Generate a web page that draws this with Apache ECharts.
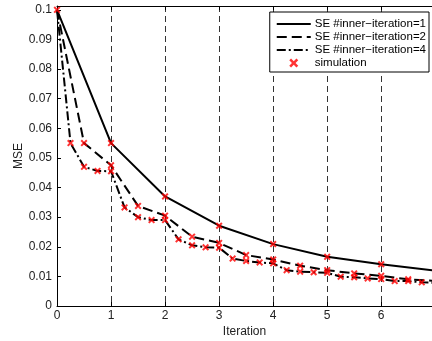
<!DOCTYPE html>
<html>
<head>
<meta charset="utf-8">
<script src="https://cdn.jsdelivr.net/npm/echarts@6/dist/echarts.min.js"></script>
<style>
  html, body { margin: 0; padding: 0; background: #fff; }
  #chart { width: 432px; height: 341px; }
</style>
</head>
<body>
<div id="chart"></div>
<script>
// SE curves
const iterSE1 = [0, 1, 2, 3, 4, 5, 6, 7]
const mseSE1 = [0.1, 0.055, 0.037, 0.0271, 0.0209, 0.0166, 0.0141, 0.0119]

const iterSE2 = [0, 0.5, 1, 1.5, 2, 2.5, 3, 3.5, 4, 4.5, 5, 5.5, 6, 6.5, 7]
const mseSE2 = [0.1, 0.055, 0.0475, 0.0338, 0.0305, 0.0234, 0.0213, 0.0172, 0.0157,
    0.0136, 0.0121, 0.011, 0.0102, 0.009, 0.0085]

const iterSE4 = [0, 0.25, 0.5, 0.75, 1, 1.25, 1.5, 1.75, 2, 2.25, 2.5, 2.75, 3, 3.25, 3.5,
    3.75, 4, 4.25, 4.5, 4.75, 5, 5.25, 5.5, 5.75, 6, 6.25, 6.5, 6.75, 7]
const mseSE4 = [0.1, 0.055, 0.047, 0.0456, 0.0455, 0.0333, 0.030, 0.029, 0.029, 0.0225,
    0.0205, 0.0198, 0.0197, 0.016, 0.0152, 0.0147, 0.0144, 0.0121, 0.0116, 0.0114,
    0.0112, 0.0099, 0.0097, 0.0093, 0.0091, 0.0084, 0.0084, 0.008, 0.0078]

// simulation markers
const simIter = [0, 1, 2, 3, 4, 5, 6,
    0.5, 1, 1.5, 2, 2.5, 3, 3.5, 4, 4.5, 5, 5.5, 6, 6.5,
    0.25, 0.5, 0.75, 1, 1.25, 1.5, 1.75, 2, 2.25, 2.5, 2.75, 3, 3.25, 3.5, 3.75, 4,
    4.25, 4.5, 4.75, 5, 5.25, 5.5, 5.75, 6, 6.25, 6.5, 6.75]
const simMse = [0.1, 0.055, 0.037, 0.0271, 0.0209, 0.0166, 0.0141,
    0.055, 0.0475, 0.0338, 0.0305, 0.0234, 0.0213, 0.0172, 0.0157, 0.0136, 0.0121, 0.011, 0.0102, 0.009,
    0.055, 0.047, 0.0456, 0.0455, 0.0333, 0.030, 0.029, 0.029, 0.0225, 0.0205, 0.0198, 0.0197,
    0.016, 0.0152, 0.0147, 0.0144, 0.0121, 0.0116, 0.0114, 0.0112, 0.0099, 0.0097, 0.0093,
    0.0091, 0.0084, 0.0084, 0.008]

const seriesNames = ['SE #inner\u2212iteration=1', 'SE #inner\u2212iteration=2',
    'SE #inner\u2212iteration=4', 'simulation']
const yTickLabels = ['0', '0.01', '0.02', '0.03', '0.04', '0.05', '0.06', '0.07', '0.08', '0.09', '0.1']
const xTickLabels = ['0', '1', '2', '3', '4', '5', '6']

const zip = (xs, ys) => xs.map((x, i) => [x, ys[i]])
const xMark = 'path://M0,2 L2,0 L5,3 L8,0 L10,2 L7,5 L10,8 L8,10 L5,7 L2,10 L0,8 L3,5 Z'
const font = 'Liberation Sans, Arial, sans-serif'

const myChart = echarts.init(document.getElementById('chart'))
myChart.setOption({
    animation: false,
    grid: { left: 57, right: 0, top: 6, bottom: 35, containLabel: false, outerBoundsMode: 'none' },
    legend: {
        orient: 'vertical',
        right: 3,
        top: 12,
        backgroundColor: '#fff',
        borderColor: '#000',
        borderWidth: 1,
        borderRadius: 0,
        padding: [6, 3, 3, 6],
        itemWidth: 34,
        itemHeight: 9,
        itemGap: 1,
        textStyle: { fontFamily: font, fontSize: 11.5, color: '#000', padding: [0, 0, 0, -1] },
        // hide the circle ECharts puts in line legend icons
        data: seriesNames.map((n, i) => i < 3 ? { name: n, itemStyle: { opacity: 0 } } : n)
    },
    xAxis: [{
        type: 'value',
        min: 0,
        max: 6.94,
        interval: 1,
        name: 'Iteration',
        nameLocation: 'middle',
        nameGap: 20,
        nameMoveOverlap: false,
        nameTextStyle: { fontFamily: font, fontSize: 12, color: '#222' },
        axisLine: { lineStyle: { color: '#000', width: 1 } },
        axisTick: { inside: true, length: 4, lineStyle: { color: '#000' } },
        axisLabel: {
            fontFamily: font, fontSize: 12, color: '#222', margin: 4,
            showMaxLabel: false,
            formatter: v => xTickLabels[Math.round(v)] ?? ''
        },
        splitLine: { show: true, lineStyle: { color: '#333', type: [6, 4], width: 1 } }
    }, {
        type: 'value',
        position: 'top',
        min: 0,
        max: 6.94,
        interval: 1,
        axisLine: { show: true, onZero: false, lineStyle: { color: '#000', width: 1 } },
        axisTick: { show: true, inside: true, length: 4, lineStyle: { color: '#000' } },
        axisLabel: { show: false },
        splitLine: { show: false }
    }],
    yAxis: {
        type: 'value',
        min: 0,
        max: 0.1013,
        interval: 0.01,
        name: 'MSE',
        nameLocation: 'middle',
        nameGap: 32,
        nameMoveOverlap: false,
        nameTextStyle: { fontFamily: font, fontSize: 12, color: '#222' },
        axisLine: { show: true, lineStyle: { color: '#000', width: 1 } },
        axisTick: { show: true, inside: true, length: 4, lineStyle: { color: '#000' } },
        axisLabel: {
            fontFamily: font, fontSize: 12, color: '#222', margin: 5,
            showMaxLabel: false,
            formatter: v => yTickLabels[Math.round(v / 0.01)] ?? ''
        },
        splitLine: { show: false }
    },
    series: [{
        name: seriesNames[0],
        type: 'line',
        data: zip(iterSE1, mseSE1),
        symbol: 'none',
        lineStyle: { color: '#000', width: 2 },
        itemStyle: { color: '#000' }
    }, {
        name: seriesNames[1],
        type: 'line',
        data: zip(iterSE2, mseSE2),
        symbol: 'none',
        lineStyle: { color: '#000', width: 2, type: [10, 5] },
        itemStyle: { color: '#000' }
    }, {
        name: seriesNames[2],
        type: 'line',
        data: zip(iterSE4, mseSE4),
        symbol: 'none',
        lineStyle: { color: '#000', width: 2, type: [9, 3, 2, 3] },
        itemStyle: { color: '#000' }
    }, {
        name: seriesNames[3],
        type: 'scatter',
        data: zip(simIter, simMse),
        symbol: xMark,
        symbolSize: 7,
        itemStyle: { color: '#ff0000' },
        z: 5
    }]
})
</script>
</body>
</html>
